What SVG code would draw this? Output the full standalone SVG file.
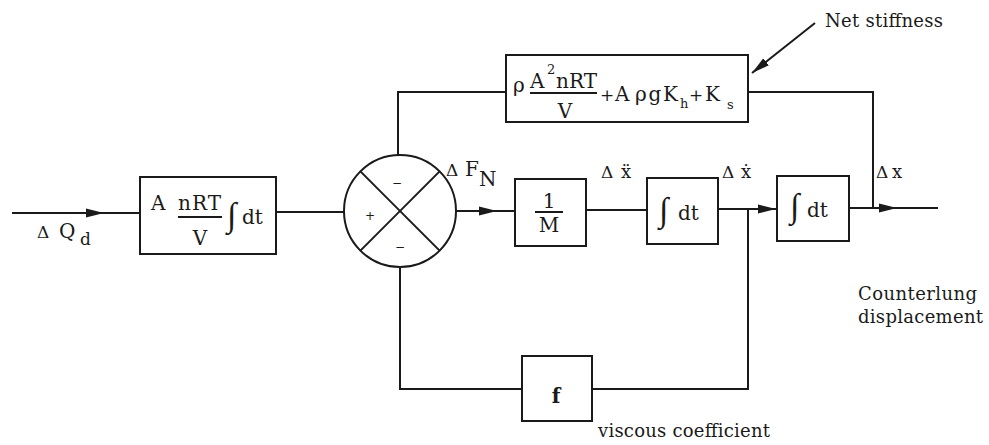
<svg xmlns="http://www.w3.org/2000/svg" width="989" height="445" viewBox="0 0 989 445">
<style>
.box{fill:none;stroke:#1a1a1a;stroke-width:2}
.ln{fill:none;stroke:#1a1a1a;stroke-width:2}
text{font-family:"DejaVu Serif","Liberation Serif",serif;fill:#1a1a1a;font-size:20px}
.int{font-family:"Liberation Serif","Times New Roman",serif;font-size:34px}
.d{font-size:17px}
.sg{font-size:12px}
.sub{font-size:13px}
.note{font-size:18px}
</style>
<defs>
<marker id="ar" markerUnits="userSpaceOnUse" markerWidth="18" markerHeight="10" refX="18" refY="5" orient="auto">
<path d="M0,0.5 L18,5 L0,9.5 z" fill="#1a1a1a"/>
</marker>
</defs>
<rect width="989" height="445" fill="#ffffff"/>
<g id="connectors">
<path class="ln" d="M12,213 H104" marker-end="url(#ar)"/>
<path class="ln" d="M104,213 H140"/>
<path class="ln" d="M276,212 H344"/>
<path class="ln" d="M456,211 H497" marker-end="url(#ar)"/>
<path class="ln" d="M497,211 H515"/>
<path class="ln" d="M586,210 H647"/>
<path class="ln" d="M718,209 H776" marker-end="url(#ar)"/>
<path class="ln" d="M849,208 H897" marker-end="url(#ar)"/>
<path class="ln" d="M897,208 H938"/>
<path class="ln" d="M873,208 V92 H748"/>
<path class="ln" d="M506,92 H398 V155"/>
<path class="ln" d="M748,209 V389 H592"/>
<path class="ln" d="M522,389 H400 V267"/>
<path class="ln" d="M815,23 L752,73" marker-end="url(#ar)"/>
</g>
<g id="input-label">
<text x="37" y="238" class="d">Δ</text>
<text x="59" y="238">Q</text>
<text x="80" y="245" class="d">d</text>
</g>
<g id="box-gas">
<rect class="box" x="140" y="177" width="136" height="77"/>
<text x="151" y="210">A</text>
<text x="178" y="210" textLength="43">nRT</text>
<line class="ln" x1="178" y1="217" x2="222" y2="217"/>
<text x="200" y="245" text-anchor="middle" font-size="19">V</text>
<text x="227" y="226" class="int">∫</text>
<text x="242" y="224">dt</text>
</g>
<g id="sum">
<circle class="box" cx="400" cy="211" r="56"/>
<line class="ln" x1="360.4" y1="171.4" x2="439.6" y2="250.6"/>
<line class="ln" x1="439.6" y1="171.4" x2="360.4" y2="250.6"/>
<text x="397" y="187" class="sg" text-anchor="middle">−</text>
<text x="370" y="220" class="sg" text-anchor="middle">+</text>
<text x="400" y="251" class="sg" text-anchor="middle">−</text>
</g>
<g id="label-fn">
<text x="446" y="176" class="d">Δ</text>
<text x="465" y="176" font-size="18">F</text>
<text x="479" y="186" font-size="17">N</text>
</g>
<g id="box-mass">
<rect class="box" x="515" y="179" width="71" height="67"/>
<text x="549" y="208" text-anchor="middle">1</text>
<line class="ln" x1="535" y1="212" x2="563" y2="212"/>
<text x="549" y="232" text-anchor="middle" textLength="23">M</text>
</g>
<g id="box-int1">
<rect class="box" x="647" y="178" width="71" height="66"/>
<text x="659" y="221" class="int">∫</text>
<text x="678" y="220">dt</text>
</g>
<g id="box-int2">
<rect class="box" x="777" y="176" width="72" height="65"/>
<text x="790" y="217" class="int">∫</text>
<text x="807" y="217">dt</text>
</g>
<g id="labels-motion">
<text x="601" y="178"><tspan class="d">Δ</tspan><tspan x="621" font-size="18">x&#776;</tspan></text>
<text x="722" y="178"><tspan class="d">Δ</tspan><tspan x="741" font-size="18">x&#775;</tspan></text>
<text x="876" y="178"><tspan class="d">Δ</tspan><tspan x="892" font-size="18">x</tspan></text>
</g>
<g id="box-stiffness">
<rect class="box" x="506" y="55" width="242" height="67"/>
<text x="513" y="92">ρ</text>
<text x="530" y="88">A<tspan x="547" y="74" class="sub">2</tspan><tspan x="556" y="88" textLength="41">nRT</tspan></text>
<line class="ln" x1="530" y1="93" x2="597" y2="93"/>
<text x="565" y="118" text-anchor="middle">V</text>
<text x="600" y="101"><tspan font-size="17">+</tspan><tspan x="615">A</tspan><tspan x="635" textLength="43">ρgK</tspan><tspan x="680" y="108" class="sub">h</tspan><tspan x="689" y="101" font-size="17">+</tspan><tspan x="705">K</tspan><tspan x="727" y="109" class="sub">s</tspan></text>
</g>
<g id="box-viscous">
<rect class="box" x="522" y="356" width="70" height="65"/>
<text x="556" y="403" text-anchor="middle" font-weight="bold" font-size="21">f</text>
</g>
<g id="annotations">
<text x="825" y="27" class="note" textLength="118">Net stiffness</text>
<text x="598" y="437" class="note" textLength="172">viscous coefficient</text>
<text x="858" y="300" class="note" textLength="119">Counterlung</text>
<text x="858" y="323" class="note" textLength="125">displacement</text>
</g>
</svg>
